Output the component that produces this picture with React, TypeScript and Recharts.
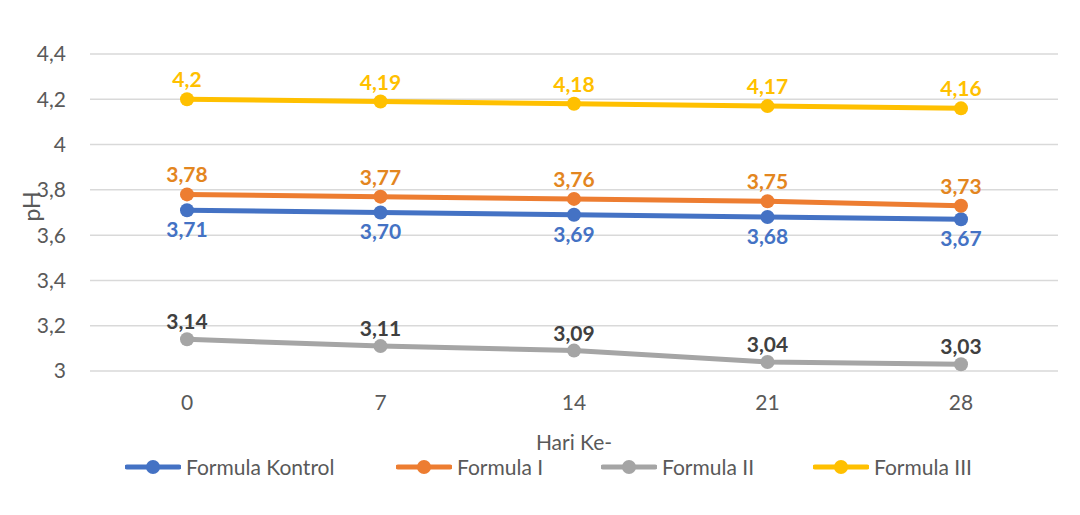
import { LineChart, Line, XAxis, YAxis, CartesianGrid, Legend, Customized } from "recharts";

const days = ["0", "7", "14", "21", "28"];
const kontrol = [3.71, 3.7, 3.69, 3.68, 3.67];
const formulaI = [3.78, 3.77, 3.76, 3.75, 3.73];
const formulaII = [3.14, 3.11, 3.09, 3.04, 3.03];
const formulaIII = [4.2, 4.19, 4.18, 4.17, 4.16];
const yTicks = [3, 3.2, 3.4, 3.6, 3.8, 4, 4.2, 4.4];

const FONT = "Lato, 'Open Sans', sans-serif";
const TEXT = "#595959";

const series = [
  { key: "kontrol", name: "Formula Kontrol", color: "#4472C4", labelColor: "#4472C4", pos: "bottom", digits: 2 },
  { key: "formulaI", name: "Formula I", color: "#ED7D31", labelColor: "#E3861F", pos: "top", digits: 0 },
  { key: "formulaII", name: "Formula II", color: "#A5A5A5", labelColor: "#404040", pos: "top", digits: 0 },
  { key: "formulaIII", name: "Formula III", color: "#FFC000", labelColor: "#FFC000", pos: "top", digits: 0 },
];

const data = days.map((d, i) => ({
  day: d,
  kontrol: kontrol[i],
  formulaI: formulaI[i],
  formulaII: formulaII[i],
  formulaIII: formulaIII[i],
}));

// comma decimals, like the Indonesian Excel original
const comma = (v: number, digits = 0) =>
  (digits ? v.toFixed(digits) : String(v)).replace(".", ",");

// legend entries sit at fixed slots, as in the Excel layout
const legendSlots = [271, 205, 212, 170];

function LegendRow() {
  return (
    <div
      style={{
        display: "flex",
        paddingLeft: 125,
        fontFamily: FONT,
        fontSize: 21,
        color: TEXT,
      }}
    >
      {series.map((s, i) => (
        <div key={s.key} style={{ display: "flex", alignItems: "center", gap: 5, width: legendSlots[i] }}>
          <svg width={56} height={16}>
            <line x1={2} y1={8} x2={54} y2={8} stroke={s.color} strokeWidth={5} strokeLinecap="round" />
            <circle cx={28} cy={8} r={7} fill={s.color} />
          </svg>
          <span>{s.name}</span>
        </div>
      ))}
    </div>
  );
}

// chart frame; its right and bottom edges fall outside the picture
const Frame = () => (
  <g>
    <line x1={7} y1={6} x2={1080} y2={6} stroke="#000" strokeWidth={2} />
    <line x1={7} y1={6} x2={7} y2={515} stroke="#000" strokeWidth={2} />
  </g>
);

export default function App() {
  return (
    <div style={{ position: "relative", width: 1080, height: 515, margin: -8, background: "#fff" }}>
      <LineChart width={1080} height={515} data={data} margin={{ top: 54, right: 22, bottom: 35, left: 10 }}>
        <Customized component={Frame} />
        <CartesianGrid vertical={false} stroke="#D9D9D9" strokeWidth={1.5} />
        <XAxis
          dataKey="day"
          padding={{ left: 97, right: 97 }}
          axisLine={false}
          tickLine={false}
          tickMargin={18}
          height={83}
          tick={{ fill: TEXT, fontSize: 21, fontFamily: FONT }}
          label={{ value: "Hari Ke-", position: "insideBottom", offset: 4, fill: TEXT, fontSize: 21, fontFamily: FONT }}
        />
        <YAxis
          domain={[3, 4.4]}
          ticks={yTicks}
          width={80}
          axisLine={false}
          tickLine={false}
          tickMargin={18}
          tick={{ fill: TEXT, fontSize: 21, fontFamily: FONT }}
          tickFormatter={(v) => comma(Number(v))}
          label={{ value: "pH", angle: -90, position: "center", dx: -18, dy: -6, fill: TEXT, fontSize: 23, fontFamily: FONT }}
        />
        <Legend verticalAlign="bottom" height={26} wrapperStyle={{ left: 0, width: 1080 }} content={() => <LegendRow />} />
        {series.map((s) => (
          <Line
            key={s.key}
            dataKey={s.key}
            name={s.name}
            type="linear"
            stroke={s.color}
            strokeWidth={5}
            dot={{ r: 7, fill: s.color, stroke: s.color, strokeWidth: 0 }}
            activeDot={false}
            isAnimationActive={false}
            label={{
              position: s.pos as "top" | "bottom",
              offset: s.key === "formulaII" ? 10 : 12,
              fill: s.labelColor,
              fontSize: 21,
              fontWeight: 700,
              fontFamily: FONT,
              formatter: (v: any) => comma(Number(v), s.digits),
            }}
          />
        ))}
      </LineChart>
      <div style={{ position: "absolute", left: 6, top: 5, width: 1074, height: 2, background: "#000" }} />
      <div style={{ position: "absolute", left: 6, top: 5, width: 2, height: 510, background: "#000" }} />
    </div>
  );
}
